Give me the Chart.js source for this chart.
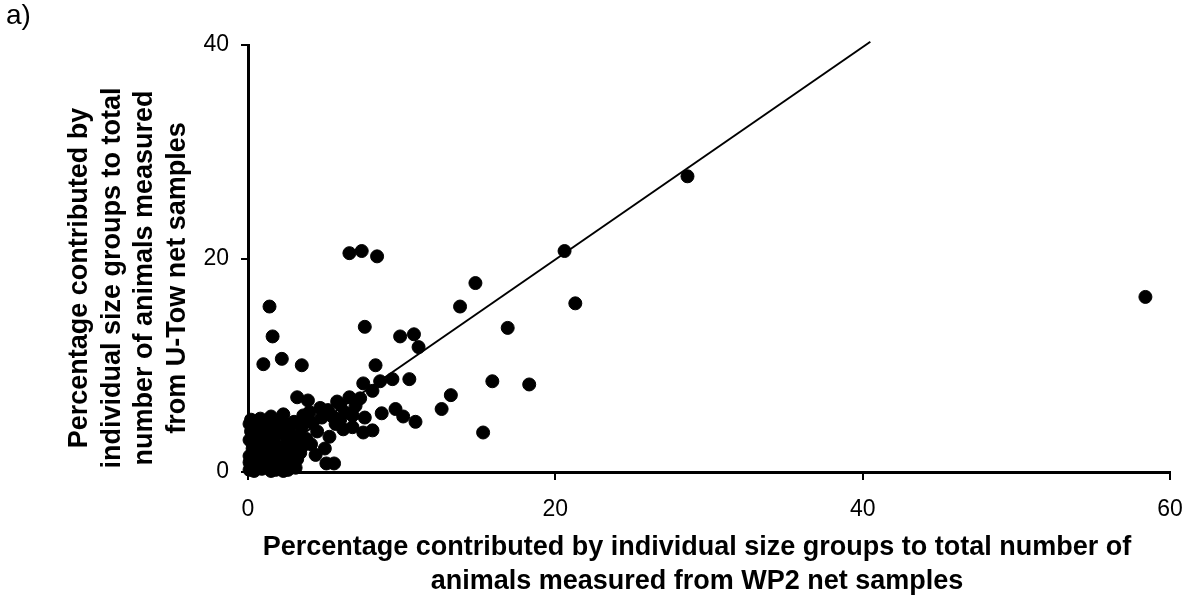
<!DOCTYPE html>
<html>
<head>
<meta charset="utf-8">
<script src="https://cdn.jsdelivr.net/npm/chart.js@4.4.0/dist/chart.umd.min.js"></script>
<style>
  html, body { margin: 0; padding: 0; background: #fff; }
  #wrap { width: 1189px; height: 601px; position: relative; }
</style>
</head>
<body>
<div id="wrap"><canvas id="scatterChart"></canvas></div>
<script>
// WP2 net (x) vs U-Tow net (y), % of animals per size group
var wp2 = [
    0.1, 0.2, 0.1, 0.3, 0.1, 0.2, 0.1, 0.2, 0.5, 0.6, 0.5, 0.7, 0.4, 0.6,
    0.9, 1.0, 1.1, 0.9, 1.2, 1.0, 1.3, 1.4, 1.5, 1.6, 1.3, 1.8, 1.9, 2.0,
    1.8, 2.1, 2.3, 2.4, 2.2, 2.6, 2.3, 2.3, 2.8, 2.9, 3.0, 2.7, 3.2, 3.4,
    3.3, 3.6, 3.5, 3.6, 1.6, 0.8, 2.0, 1.5, 3.0, 2.6,
    0.4, 1.5, 2.6, 0.3, 0.8, 1.7, 2.5, 3.1, 1.2, 0.6, 2.9, 3.8, 4.1, 1.9,
    3.2, 3.9, 4.7, 5.2, 6.0, 6.6, 7.3, 6.8, 7.6, 6.0, 6.8, 7.5, 8.1, 5.3,
    5.0, 4.4, 5.1, 5.6, 2.7, 4.2, 4.8, 3.9, 4.5, 5.5, 6.3, 4.0, 7.0, 5.8,
    6.2, 5.7, 0.1, 2.3,
    7.5, 8.6, 9.4, 10.5, 8.1, 8.3, 8.7, 9.6, 10.1, 10.9, 12.6, 13.2, 15.3,
    15.9, 18.3, 16.9, 13.8, 14.8, 10.8, 9.9, 11.1, 7.6, 1.4, 1.6, 1.0, 2.2,
    3.5, 6.6, 7.4, 8.4, 20.6, 21.3, 28.6, 58.4
];
var uTow = [
    0.2, 0.8, 1.5, 2.2, 3.0, 3.8, 4.5, 4.9, 0.4, 1.2, 2.0, 2.8, 3.4, 4.2,
    0.3, 1.0, 1.8, 2.5, 3.2, 3.9, 0.6, 1.4, 2.2, 3.0, 4.4, 0.2, 1.1, 1.9,
    2.6, 3.6, 0.5, 1.4, 2.3, 3.0, 4.1, 5.4, 0.9, 2.0, 2.8, 3.8, 1.2, 1.8,
    3.4, 2.5, 4.2, 5.3, 4.8, 5.0, 4.6, 5.2, 4.7, 4.4,
    0.1, 0.1, 0.2, 1.0, 1.9, 3.6, 1.8, 0.4, 2.6, 3.2, 3.3, 3.1, 2.6, 0.6,
    7.0, 6.7, 6.0, 5.8, 6.3, 7.0, 6.9, 5.3, 5.1, 4.9, 4.2, 3.7, 3.9, 3.3,
    2.2, 1.6, 0.8, 0.8, 0.7, 4.6, 5.1, 4.8, 3.8, 5.2, 5.6, 5.6, 6.2, 6.6,
    4.0, 4.5, 0.9, 0.1,
    8.3, 8.5, 8.7, 8.7, 7.6, 10.0, 5.5, 5.9, 5.2, 4.7, 5.9, 7.2, 3.7,
    8.5, 8.2, 13.5, 15.5, 17.7, 12.9, 12.7, 11.7, 13.6, 15.5, 12.7, 10.1, 10.6,
    10.0, 20.5, 20.7, 20.2, 20.7, 15.8, 27.7, 16.4
];

// fitted line ends
var fitX = [0, 40.5];
var fitY = [0, 40.3];

var xTicks = [0, 20, 40, 60];
var yTicks = [0, 20, 40];

var xTitle = ['Percentage contributed by individual size groups to total number of',
              'animals measured from WP2 net samples'];
var yTitle = ['Percentage contributed by', 'individual size groups to total',
              'number of animals measured', 'from U-Tow net samples'];

var points = wp2.map(function (x, i) { return { x: x, y: uTow[i] }; });
var fitLine = fitX.map(function (x, i) { return { x: x, y: fitY[i] }; });

var tickFont = { family: '"Liberation Sans", Arial, sans-serif', size: 23 };

// axis titles and panel letter
var titlesPlugin = {
    id: 'titles',
    afterDraw: function (chart) {
        var ctx = chart.ctx;
        ctx.save();
        ctx.fillStyle = '#000';
        ctx.textAlign = 'center';
        ctx.textBaseline = 'middle';
        ctx.font = 'bold 27px "Liberation Sans", Arial, sans-serif';
        ctx.fillText(xTitle[0], 697, 548);
        ctx.fillText(xTitle[1], 697, 582);

        ctx.translate(0, 278);
        ctx.rotate(-Math.PI / 2);
        yTitle.forEach(function (line, i) {
            ctx.fillText(line, 0, 80 + i * 32.5);
        });
        ctx.restore();

        ctx.save();
        ctx.fillStyle = '#000';
        ctx.font = '28px "Liberation Sans", Arial, sans-serif';
        ctx.textBaseline = 'top';
        ctx.fillText('a)', 6, 2);
        ctx.restore();
    }
};

var ctx = document.getElementById('scatterChart').getContext('2d');
var chart = new Chart(ctx, {
    type: 'scatter',
    data: {
        datasets: [{
            data: points,
            backgroundColor: '#000',
            borderColor: '#000',
            pointRadius: 6.5,
            pointHoverRadius: 6.5,
            clip: false
        }, {
            type: 'line',
            data: fitLine,
            borderColor: '#000',
            borderWidth: 2,
            pointRadius: 0,
            fill: false,
            clip: false
        }]
    },
    options: {
        responsive: true,
        maintainAspectRatio: false,
        animation: false,
        layout: { padding: { top: 45, right: 19, left: 0, bottom: 0 } },
        plugins: {
            legend: { display: false },
            tooltip: { enabled: false }
        },
        scales: {
            x: {
                type: 'linear',
                min: 0,
                max: 60,
                afterFit: function (scale) {
                    scale.height = 129;
                    scale.paddingLeft = 0;
                    scale.paddingRight = 0;
                },
                afterBuildTicks: function (scale) {
                    scale.ticks = xTicks.map(function (v) { return { value: v }; });
                },
                border: { color: '#000', width: 3 },
                grid: { drawOnChartArea: false, tickLength: 8, color: '#000', lineWidth: 2 },
                ticks: { color: '#000', font: tickFont, padding: 16, maxRotation: 0 }
            },
            y: {
                type: 'linear',
                min: 0,
                max: 40,
                afterFit: function (scale) {
                    scale.width = 248;
                    scale.paddingTop = 0;
                    scale.paddingBottom = 0;
                },
                afterBuildTicks: function (scale) {
                    scale.ticks = yTicks.map(function (v) { return { value: v }; });
                },
                border: { color: '#000', width: 3 },
                grid: { drawOnChartArea: false, tickLength: 7, color: '#000', lineWidth: 2 },
                ticks: { color: '#000', font: tickFont, padding: 12 }
            }
        }
    },
    plugins: [titlesPlugin]
});
</script>
</body>
</html>
